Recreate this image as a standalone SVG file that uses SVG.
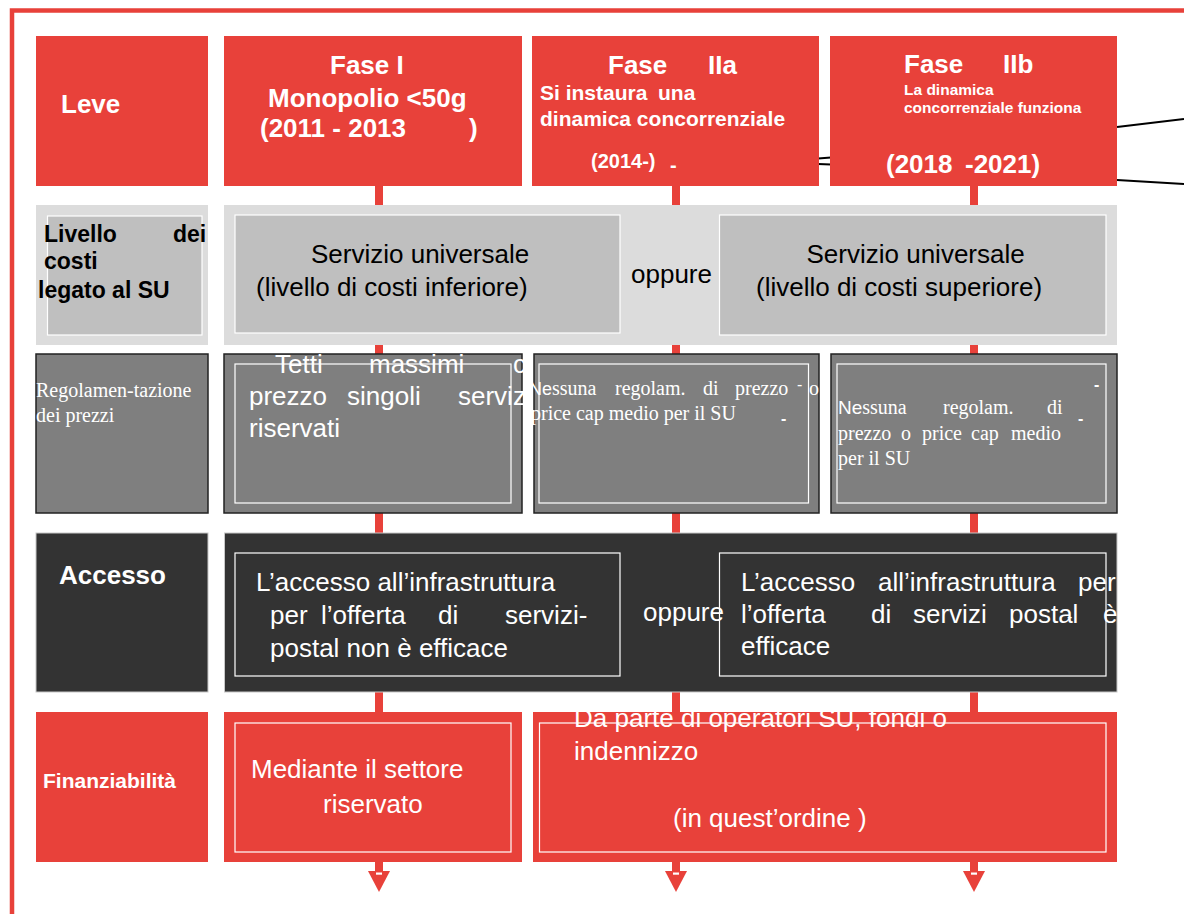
<svg xmlns="http://www.w3.org/2000/svg" width="1184" height="914" viewBox="0 0 1184 914">
<style>
text{font-family:"Liberation Sans",Arial,sans-serif}
.b{font-weight:bold}
.w{fill:#fff}
.k{fill:#000}
.s{font-family:"Liberation Serif","Times New Roman",serif}
.red{fill:#E8413A}
.lg{fill:#DCDCDC}
.mg{fill:#BFBFBF;stroke:#fff;stroke-width:1.2}
.g3{fill:#7F7F7F;stroke:#222;stroke-width:1.5}
.dk{fill:#333;stroke:#C8C8C8;stroke-width:1}
.in{fill:none;stroke:#fff;stroke-width:1.2}
.stem{fill:#E8413A}
.bl{stroke:#000;stroke-width:2;fill:none}
.h26{font-size:26px}
.r26{font-size:26px}
.sr{font-size:20px}
</style>
<rect id="frame" x="12" y="10.5" width="1300" height="1000" fill="none" stroke="#E8413A" stroke-width="4.5"/>
<g id="connectors">
  <rect class="stem" x="375" y="186" width="8" height="686"/>
  <rect class="stem" x="672" y="186" width="8" height="686"/>
  <rect class="stem" x="970" y="186" width="8" height="686"/>
  <polygon class="red" points="368,871 390,871 379,892"/>
  <polygon class="red" points="665,871 687,871 676,892"/>
  <polygon class="red" points="963,871 985,871 974,892"/>
  <rect x="376" y="872.5" width="6" height="2.2" fill="#fff"/>
  <rect x="673" y="872.5" width="6" height="2.2" fill="#fff"/>
  <rect x="971" y="872.5" width="6" height="2.2" fill="#fff"/>
  <line class="bl" x1="1117" y1="127" x2="1184" y2="119"/>
  <line class="bl" x1="1117" y1="180" x2="1184" y2="184"/>
  <line class="bl" x1="818" y1="158.5" x2="831" y2="157.5"/>
  <line class="bl" x1="818" y1="164" x2="831" y2="164.5"/>
</g>
<g id="node-leve">
  <rect class="red" x="36" y="36" width="172" height="150"/>
  <text class="b w h26" x="61" y="113">Leve</text>
</g>
<g id="node-fase1">
  <rect class="red" x="224" y="36" width="298" height="150"/>
  <text class="b w h26" x="330" y="74">Fase I</text>
  <text class="b w h26" x="268" y="107">Monopolio &lt;50g</text>
  <text class="b w h26" x="260" y="137">(2011 - 2013</text>
  <text class="b w h26" x="469" y="137">)</text>
</g>
<g id="node-fase2a">
  <rect class="red" x="532" y="36" width="287" height="150"/>
  <text class="b w h26" x="608" y="74">Fase</text>
  <text class="b w h26" x="708" y="74">IIa</text>
  <text class="b w" font-size="21" x="540" y="100">Si instaura</text>
  <text class="b w" font-size="21" x="658" y="100">una</text>
  <text class="b w" font-size="21" x="540" y="126">dinamica concorrenziale</text>
  <text class="b w" font-size="20" x="591" y="168">(2014-)</text>
  <text class="b w" font-size="20" x="670" y="172">-</text>
</g>
<g id="node-fase2b">
  <rect class="red" x="830" y="36" width="287" height="150"/>
  <text class="b w h26" x="904" y="73">Fase</text>
  <text class="b w h26" x="1003" y="73">IIb</text>
  <text class="b w" font-size="15.5" x="904" y="95">La dinamica</text>
  <text class="b w" font-size="15.5" x="904" y="113">concorrenziale funziona</text>
  <text class="b w h26" x="886" y="173">(2018</text>
  <text class="b w h26" x="965" y="173">-2021)</text>
</g>
<g id="node-livello">
  <rect class="lg" x="36" y="205" width="172" height="140"/>
  <rect class="mg" x="47.5" y="216" width="154.5" height="119"/>
  <text class="b k" font-size="23" x="44" y="242">Livello</text>
  <text class="b k" font-size="23" x="173" y="242">dei</text>
  <text class="b k" font-size="23" x="44" y="269">costi</text>
  <text class="b k" font-size="23" x="38" y="298">legato al SU</text>
</g>
<g id="node-su-row">
  <rect class="lg" x="224" y="205" width="893" height="140"/>
  <g id="node-su-inferiore">
    <rect class="mg" x="235" y="215" width="385" height="118"/>
    <text class="k r26" x="311" y="263">Servizio universale</text>
    <text class="k r26" x="256" y="296">(livello di costi inferiore)</text>
  </g>
  <text class="k r26" x="631" y="283">oppure</text>
  <g id="node-su-superiore">
    <rect class="mg" x="719.5" y="215" width="386.5" height="120"/>
    <text class="k r26" x="806.5" y="263">Servizio universale</text>
    <text class="k r26" x="756" y="296">(livello di costi superiore)</text>
  </g>
</g>
<g id="node-regolamentazione">
  <rect class="g3" x="36" y="354" width="172" height="159"/>
  <text class="s w sr" x="36" y="397">Regolamen-tazione</text>
  <text class="s w sr" x="36" y="422">dei prezzi</text>
</g>
<g id="node-tetti">
  <rect class="g3" x="224" y="354" width="298" height="159"/>
  <rect class="in" x="235" y="364" width="276" height="139"/>
  <text class="w r26" x="275" y="373">Tetti</text>
  <text class="w r26" x="369" y="373">massimi</text>
  <text class="w r26" x="513" y="373">c</text>
  <text class="w r26" x="249" y="405">prezzo</text>
  <text class="w r26" x="347" y="405">singoli</text>
  <text class="w r26" x="458" y="405">serviz</text>
  <text class="w r26" x="249" y="437">riservati</text>
</g>
<g id="node-nessuna-2a">
  <rect class="g3" x="534" y="354" width="285" height="159"/>
  <rect class="in" x="539" y="364" width="269.5" height="139"/>
  <text class="w sr" x="529" y="395"><tspan font-family="Liberation Sans, Arial, sans-serif" font-size="18">Ne</tspan><tspan class="s">ssuna</tspan></text>
  <text class="s w sr" x="615" y="395">regolam.</text>
  <text class="s w sr" x="703" y="395">di</text>
  <text class="s w sr" x="735" y="395">prezzo</text>
  <text class="w" font-size="16" x="797" y="390">-</text>
  <text class="s w sr" x="809" y="395">o</text>
  <text class="s w sr" x="531" y="420">price cap medio per il SU</text>
  <text class="b w" font-size="16" x="781" y="424">-</text>
</g>
<g id="node-nessuna-2b">
  <rect class="g3" x="831" y="354" width="286" height="159"/>
  <rect class="in" x="837" y="364" width="269" height="139"/>
  <text class="b w" font-size="16" x="1094" y="390">-</text>
  <text class="w sr" x="838" y="414"><tspan font-family="Liberation Sans, Arial, sans-serif" font-size="19">Ne</tspan><tspan class="s">ssuna</tspan></text>
  <text class="s w sr" x="943" y="414">regolam.</text>
  <text class="s w sr" x="1047" y="414">di</text>
  <text class="b w" font-size="16" x="1078" y="424">-</text>
  <text class="s w sr" x="838" y="440">prezzo</text>
  <text class="s w sr" x="901" y="440">o</text>
  <text class="s w sr" x="922" y="440">price</text>
  <text class="s w sr" x="971" y="440">cap</text>
  <text class="s w sr" x="1011" y="440">medio</text>
  <text class="s w sr" x="838" y="465">per il SU</text>
</g>
<g id="node-accesso">
  <rect class="dk" x="36" y="533" width="172" height="159"/>
  <text class="b w h26" x="59" y="584">Accesso</text>
</g>
<g id="node-accesso-row">
  <rect class="dk" x="224.5" y="533" width="892.5" height="159"/>
  <g id="node-accesso-non-efficace">
    <rect class="in" x="235" y="553" width="385" height="123"/>
    <text class="w r26" x="256" y="591">L’accesso all’infrastruttura</text>
    <text class="w r26" x="270" y="624">per</text>
    <text class="w r26" x="321" y="624">l’offerta</text>
    <text class="w r26" x="438" y="624">di</text>
    <text class="w r26" x="505" y="624">servizi-</text>
    <text class="w r26" x="270" y="657">postal non è efficace</text>
  </g>
  <text class="w r26" x="643" y="621">oppure</text>
  <g id="node-accesso-efficace">
    <rect class="in" x="719.5" y="553" width="386.5" height="123"/>
    <text class="w r26" x="741" y="591">L’accesso</text>
    <text class="w r26" x="878" y="591">all’infrastruttura</text>
    <text class="w r26" x="1078" y="591">per</text>
    <text class="w r26" x="741" y="623">l’offerta</text>
    <text class="w r26" x="871" y="623">di</text>
    <text class="w r26" x="913" y="623">servizi</text>
    <text class="w r26" x="1009" y="623">postal</text>
    <text class="w" font-size="16" x="1067" y="622">-</text>
    <text class="w r26" x="1103" y="623">è</text>
    <text class="w r26" x="741" y="655">efficace</text>
  </g>
</g>
<g id="node-finanziabilita">
  <rect class="red" x="36" y="712" width="172" height="150"/>
  <text class="b w" font-size="21" x="43" y="788">Finanziabilità</text>
</g>
<g id="node-settore-riservato">
  <rect class="red" x="224" y="712" width="298" height="150"/>
  <rect class="in" x="235" y="723" width="276" height="129"/>
  <text class="w r26" x="251" y="778">Mediante il settore</text>
  <text class="w r26" x="323" y="813">riservato</text>
</g>
<g id="node-operatori-su">
  <rect class="red" x="533" y="712" width="584" height="150"/>
  <rect class="in" x="539.5" y="723" width="566.5" height="129"/>
  <text class="w r26" x="574" y="727">Da parte di operatori SU, fondi o</text>
  <text class="w r26" x="574" y="760">indennizzo</text>
  <text class="w r26" x="673" y="827">(in quest’ordine )</text>
</g>
</svg>
